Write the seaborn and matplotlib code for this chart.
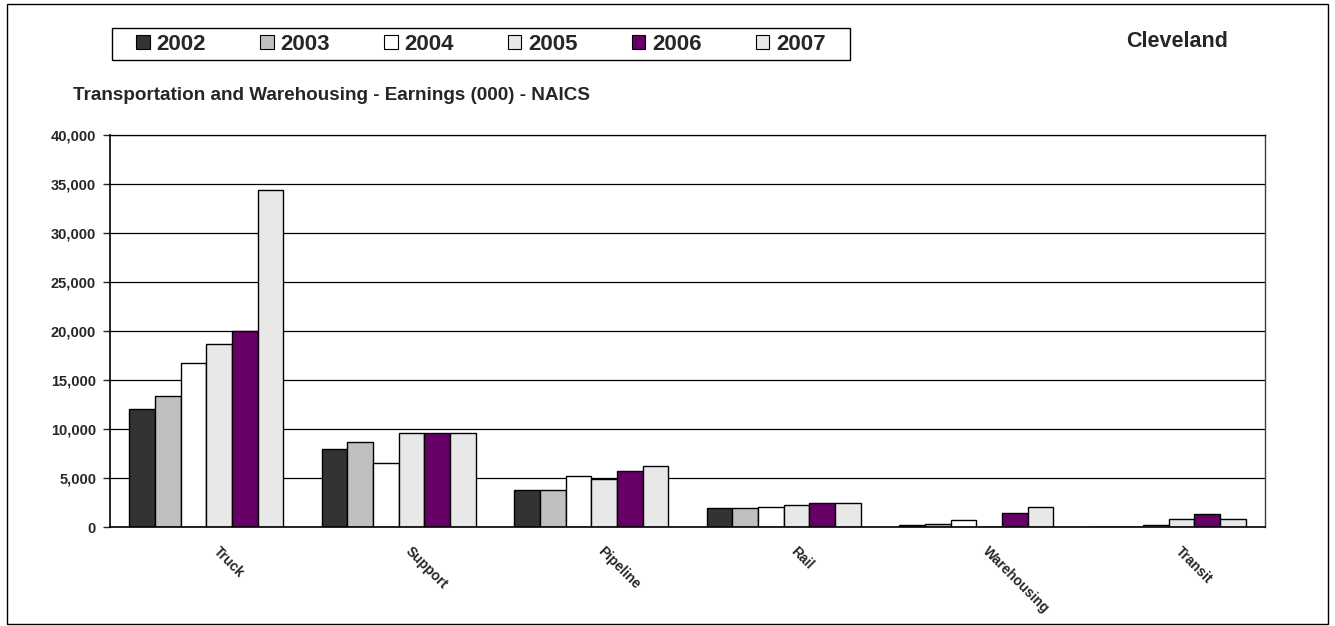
import numpy as np
import pandas as pd
import matplotlib
matplotlib.use("Agg")
import matplotlib.pyplot as plt
import matplotlib.transforms as mtransforms
import seaborn as sns
from matplotlib.patches import Rectangle
from matplotlib.ticker import FuncFormatter

# values (thousands of dollars)
categories = ["Truck", "Support", "Pipeline", "Rail", "Warehousing", "Transit"]
years = ["2002", "2003", "2004", "2005", "2006", "2007"]
v2002 = [12000, 8000, 3750, 1900, 200, 0]
v2003 = [13400, 8700, 3750, 1900, 300, 0]
v2004 = [16700, 6500, 5250, 2000, 700, 200]
v2005 = [18700, 9600, 4950, 2200, 0, 800]
v2006 = [20000, 9600, 5750, 2450, 1400, 1300]
v2007 = [34400, 9600, 6200, 2450, 2000, 800]
colors = ["#333333", "#C0C0C0", "#FFFFFF", "#E8E8E8", "#660066", "#E8E8E8"]

series = [v2002, v2003, v2004, v2005, v2006, v2007]
rows = []
for yr, vals in zip(years, series):
    for cat, v in zip(categories, vals):
        rows.append({"category": cat, "year": yr, "value": v})
df = pd.DataFrame(rows)

sns.set_style("white")
plt.rcParams['font.family'] = ['Liberation Sans', 'DejaVu Sans']
plt.rcParams['font.weight'] = 'bold'

fig = plt.figure(figsize=(13.35, 6.26), dpi=100)
ax = fig.add_axes([0.0824, 0.1581, 0.8652, 0.6262])

sns.barplot(data=df, x="category", y="value", hue="year", order=categories,
            hue_order=years, palette=colors, edgecolor="black", linewidth=1.0,
            width=0.8, saturation=1, errorbar=None, legend=False, ax=ax)

ax.set_ylim(0, 40000)
ax.set_yticks(np.arange(0, 40001, 5000))
ax.yaxis.set_major_formatter(FuncFormatter(lambda v, p: f"{int(v):,}"))
ax.grid(axis="y", color="black", linewidth=0.9)
ax.set_axisbelow(True)
ax.set_xlabel("")
ax.set_ylabel("")

for s in ["left", "bottom"]:
    ax.spines[s].set_color("black")
    ax.spines[s].set_linewidth(1.2)
ax.spines["top"].set_color("black")
ax.spines["top"].set_linewidth(0.9)
ax.spines["right"].set_color("#404040")
ax.spines["right"].set_linewidth(1.0)

ax.tick_params(axis="y", left=True, length=5, width=1, direction="out",
               labelsize=10.5, pad=5)
ax.tick_params(axis="x", bottom=False, labelsize=10, pad=14)
for lbl in ax.get_yticklabels():
    lbl.set_fontweight("bold")
shift = mtransforms.ScaledTranslation(0.09, 0.02, fig.dpi_scale_trans)
for lbl in ax.get_xticklabels():
    lbl.set_rotation(-45)
    lbl.set_ha("left")
    lbl.set_va("center")
    lbl.set_rotation_mode("anchor")
    lbl.set_fontweight("bold")
    lbl.set_transform(lbl.get_transform() + shift)

# legend: frame drawn separately so its padding matches the original
fig.patches.append(Rectangle((0.0839, 0.9042), 0.5528, 0.0511,
                             transform=fig.transFigure, facecolor="white",
                             edgecolor="black", linewidth=1.0, zorder=1))
handles = [Rectangle((0, 0), 1, 1, facecolor=c, edgecolor="black", linewidth=0.8)
           for c in colors]
leg = fig.legend(handles, years, loc="center", ncol=6,
                 bbox_to_anchor=(0.3603, 0.9297), frameon=False,
                 prop={"size": 16, "weight": "bold"}, handlelength=0.6,
                 handleheight=0.6, handletextpad=0.3, columnspacing=2.45,
                 borderpad=0.2)

fig.text(0.0547, 0.8403, "Transportation and Warehousing - Earnings (000) - NAICS",
         fontsize=13.6, fontweight="bold", ha="left", va="baseline")
fig.text(0.8816, 0.933, "Cleveland", fontsize=15.5, fontweight="bold",
         ha="center", va="center")

fig.patches.append(Rectangle((0.005, 0.003), 0.99, 0.991, transform=fig.transFigure,
                             fill=False, edgecolor="black", linewidth=1.0))

fig.savefig("out.png", dpi=100)
